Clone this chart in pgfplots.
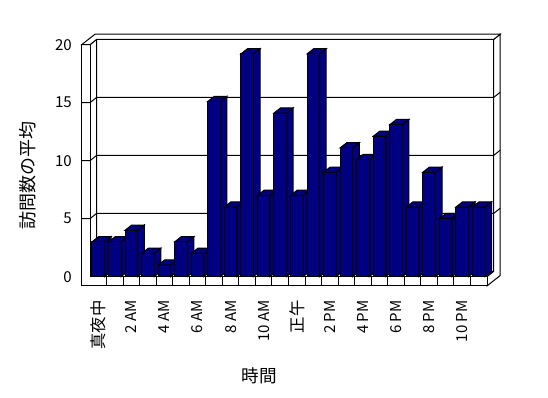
\documentclass[border=0pt]{standalone}
\usepackage{fontspec}
\setmainfont{Noto Sans CJK JP}
\usepackage{pgfplots}
\usepackage{pgfplotstable}
\pgfplotsset{compat=1.18}
\definecolor{navy}{RGB}{0,0,128}
\def\dx{0.4}\def\dy{0.45}\def\hw{0.38}
\pgfplotstableread{
h v
0 3
1 3
2 4
3 2
4 1
5 3
6 2
7 15.1
8 6
9 19.2
10 7
11 14.1
12 7
13 19.2
14 9
15 11.1
16 10.1
17 12.1
18 13.1
19 6
20 9
21 5
22 6
23 6
}\visits
\begin{document}
\begin{tikzpicture}[x=1pt,y=1pt]
\path[use as bounding box] (0,0) rectangle (411,298.5);
\begin{axis}[
  at={(67.5pt,91pt)}, anchor=south west,
  scale only axis, width=297.75pt, height=174pt,
  xmin=-0.5, xmax=23.5, ymin=0, ymax=20,
  clip=false,
  axis line style={draw=none},
  major tick style={draw=none}, minor tick style={draw=none},
  /pgf/number format/assume math mode=true,
  ticklabel style={font=\fontsize{11.3}{13}\selectfont},
  ytick={0,5,10,15,20},
  yticklabel style={anchor=east, inner sep=0pt, xshift=-13.5pt},
  xtick={0,2,...,22},
  xticklabels={{\fontsize{12.3}{14}\selectfont 真夜中}, 2 AM, 4 AM, 6 AM, 8 AM, 10 AM, {\fontsize{12.3}{14}\selectfont 正午}, 2 PM, 4 PM, 6 PM, 8 PM, 10 PM},
  xticklabel style={rotate=90, anchor=east, inner sep=0pt},
  xticklabel shift=17.5pt,
  xlabel={時間}, ylabel={訪問数の平均},
  xlabel style={at={(axis description cs:0.426,-0.428)}, anchor=center, font=\fontsize{13.2}{15}\selectfont},
  ylabel style={at={(axis description cs:-0.156,0.438)}, anchor=center, font=\fontsize{13.5}{15}\selectfont},
  wall/.style={fill=white, draw=black, line width=0.75pt},
  barface/.style={fill=navy, draw=black, line width=0.75pt},
]
% back wall inner face
\addplot[wall] coordinates {(-0.1,0.45) (23.9,0.45) (23.9,20.45) (-0.1,20.45)} -- cycle;
% left wall inner face
\addplot[wall] coordinates {(-0.5,0) (-0.1,0.45) (-0.1,20.45) (-0.5,20)} -- cycle;
% floor top face
\addplot[wall] coordinates {(-0.5,0) (23.5,0) (23.9,0.45) (-0.1,0.45)} -- cycle;
% right side faces
\addplot[wall] coordinates {(23.5,-0.8) (24.3,0.1) (24.3,20.9) (23.9,20.45) (23.9,0.45) (23.5,0)} -- cycle;
% front faces (left wall + floor)
\addplot[wall] coordinates {(-1,-0.8) (23.5,-0.8) (23.5,0) (-0.5,0) (-0.5,20) (-1,20)} -- cycle;
% top faces
\addplot[wall] coordinates {(-1,20) (-0.2,20.9) (24.3,20.9) (23.9,20.45) (-0.1,20.45) (-0.5,20)} -- cycle;
% grid lines
\addplot[black, line width=0.75pt] coordinates {(-1,5) (-0.5,5) (-0.1,5.45) (23.9,5.45) (24.3,5.9)};
\addplot[black, line width=0.75pt] coordinates {(-1,10) (-0.5,10) (-0.1,10.45) (23.9,10.45) (24.3,10.9)};
\addplot[black, line width=0.75pt] coordinates {(-1,15) (-0.5,15) (-0.1,15.45) (23.9,15.45) (24.3,15.9)};
% floor ticks
\addplot[ycomb, black, line width=0.75pt] coordinates {(0.5,-0.8) (1.5,-0.8) (2.5,-0.8) (3.5,-0.8) (4.5,-0.8) (5.5,-0.8) (6.5,-0.8) (7.5,-0.8) (8.5,-0.8) (9.5,-0.8) (10.5,-0.8) (11.5,-0.8) (12.5,-0.8) (13.5,-0.8) (14.5,-0.8) (15.5,-0.8) (16.5,-0.8) (17.5,-0.8) (18.5,-0.8) (19.5,-0.8) (20.5,-0.8) (21.5,-0.8) (22.5,-0.8)};
% bars
\pgfplotsinvokeforeach{0,...,23}{
  \pgfplotstablegetelem{#1}{v}\of\visits
  \pgfmathsetmacro\V{\pgfplotsretval}
  \pgfmathsetmacro\Vt{\V+\dy}
  \pgfmathsetmacro\XL{#1-\hw}
  \pgfmathsetmacro\XR{#1+\hw}
  \pgfmathsetmacro\XLb{\XL+\dx}
  \pgfmathsetmacro\XRb{\XR+\dx}
  \edef\doit{%
    \noexpand\addplot[barface] coordinates {(\XR,0) (\XRb,\dy) (\XRb,\Vt) (\XR,\V)} -- cycle;
    \noexpand\addplot[barface] coordinates {(\XL,\V) (\XR,\V) (\XRb,\Vt) (\XLb,\Vt)} -- cycle;
    \noexpand\addplot[barface] coordinates {(\XL,0) (\XR,0) (\XR,\V) (\XL,\V)} -- cycle;
  }\doit
}
\end{axis}
\end{tikzpicture}
\end{document}
